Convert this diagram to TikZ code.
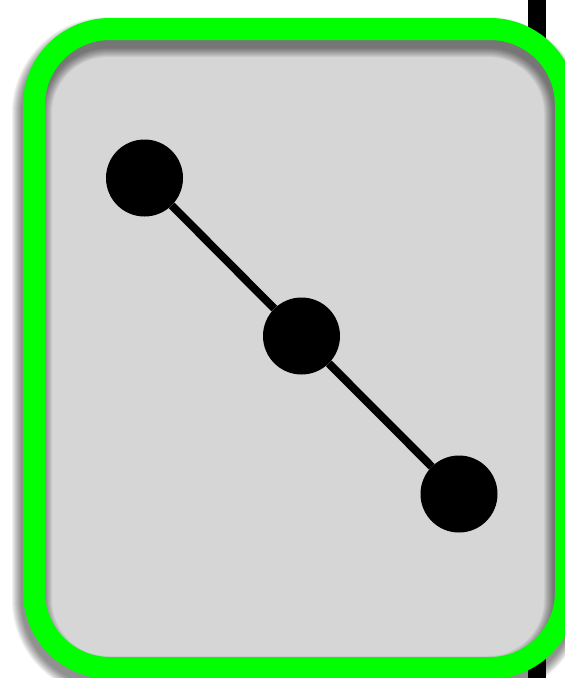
\documentclass[tikz,border=0pt]{standalone}
\begin{document}
\begin{tikzpicture}[x=1pt,y=-1pt,
  dot/.style={circle,fill=black,inner sep=0pt,minimum size=77pt},
  edge/.style={line width=8pt,black},
  frame/.style={line width=22pt,rounded corners=76pt}]
\definecolor{boxgray}{RGB}{214,214,214}
\definecolor{framegreen}{RGB}{0,255,0}
\useasboundingbox (0,0) rectangle (565,678);
\clip (0,0) rectangle (565,678);
% black bar behind
\fill[black] (528,0) rectangle (546,678);
% gray fill
\fill[boxgray,rounded corners=76pt] (34,29) rectangle (566,668);
% soft shadow of frame
\foreach \k in {0,...,9}{
  \draw[frame,black,opacity=0.055,line width={22pt+2*\k pt},shift={(-2,8)}]
    (34,29) rectangle (566,668);
}
% green frame
\draw[frame,framegreen] (34,29) rectangle (566,668);
% graph
\node[dot] (a) at (144.5,178) {};
\node[dot] (b) at (301.5,336) {};
\node[dot] (c) at (459,494) {};
\draw[edge] (a) -- (b);
\draw[edge] (b) -- (c);
\end{tikzpicture}
\end{document}
